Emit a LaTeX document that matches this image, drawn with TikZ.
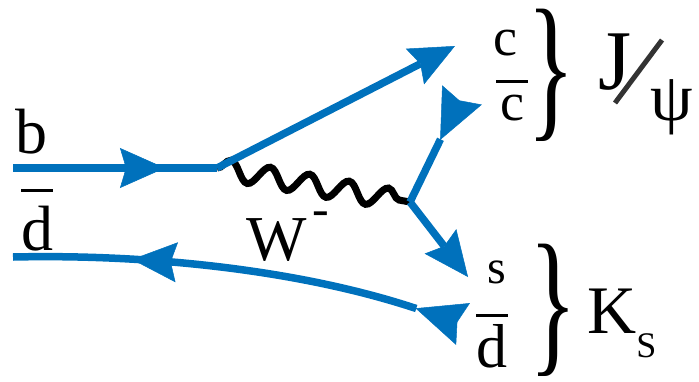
\documentclass[tikz,border=0pt]{standalone}
\usepackage{fontspec}
\setmainfont{Liberation Serif}
\usetikzlibrary{arrows.meta,decorations.markings,decorations.pathmorphing}

\definecolor{qblue}{RGB}{0,113,188}
% letter with a bar over it
\newcommand{\antiq}[2][12pt]{\vbox{\hrule height 3pt\kern#1\hbox to 32pt{\hss#2\hss}}}

\begin{document}
\begin{tikzpicture}[x=1pt,y=1pt,yscale=-1,
		qtip/.tip={Stealth[length=45pt,width=40pt,inset=6pt,line width=0.5pt]},
		qtipr/.tip={Stealth[length=50pt,width=44pt,inset=6pt,line width=0.5pt,reversed]},
		quark/.style={qblue,line width=7.5pt},
		boson/.style={draw=black,decorate,decoration={snake,segment length=40pt,amplitude=10pt}},
		lbl/.style={inner sep=0pt,anchor=base,font=\fontsize{#1}{#1}\selectfont},
		brace/.style={inner sep=0pt,xscale=0.62,transform shape,font=\fontsize{160}{160}\selectfont}]
		\useasboundingbox (0,0) rectangle (699,381);

		% Vertices and free ends of the lines
		\coordinate (bin) at (13,168);
		\coordinate (v1) at (217,168);
		\coordinate (v2) at (410,202);
		\coordinate (cend) at (455,46);
		\coordinate (cbarend) at (462,95);
		\coordinate (send) at (468,277);
		\coordinate (dbarin) at (13,257);
		\coordinate (dbarend) at (463,324);

		% The W boson
		\draw[boson,line width=7pt] (v1) -- (v2);

		% The incoming b quark
		\draw[quark,postaction={decorate},decoration={markings,mark=at position 0.745 with {\arrow{qtip}}}] (bin) -- (v1);

		% Outgoing c, cbar and s
		\draw[quark,-qtip] (v1) -- (cend);
		\draw[quark,-qtipr] (v2) -- (cbarend);
		\draw[quark,-qtip] (v2) -- (send);

		% The spectator dbar
		\draw[quark,-qtipr,postaction={decorate},decoration={markings,mark=at position 0.26 with {\arrowreversed{qtip}}}]
		(dbarin) .. controls (150,254) and (300,270) .. (dbarend);

		% Quark labels
		\node[lbl=64] (b) at (32,153) {b};
		\node[lbl=64] (dbar) at (37,250) {\antiq[14pt]{d}};
		\node[lbl=64,anchor=base west] (W) at (246,260) {W\kern6pt\raisebox{35pt}{\fontsize{50}{50}\selectfont -}};
		\node[lbl=54] (c) at (505,55) {c};
		\node[lbl=54] (cbar) at (512,120) {\antiq[12pt]{c}};
		\node[lbl=48] (s) at (497,283) {s};
		\node[lbl=62] (dbarout) at (492,367) {\antiq[7pt]{d}};

		% Braces
		\node[brace] (jbrace) at (551,75) {\}};
		\node[brace] (kbrace) at (553,310) {\}};

		% The mesons
		\node[lbl=85] (J) at (615,89) {J};
		\node[inner sep=0pt,font=\fontsize{68}{68}\selectfont] (psi) at (672,107) {ψ};
		\draw[line width=5pt,black!80] (662,40) -- (615,103);
		\node[lbl=68,anchor=base west] (K) at (587,333) {K\raisebox{-24pt}{\fontsize{36}{36}\selectfont S}};
	\end{tikzpicture}
\end{document}
